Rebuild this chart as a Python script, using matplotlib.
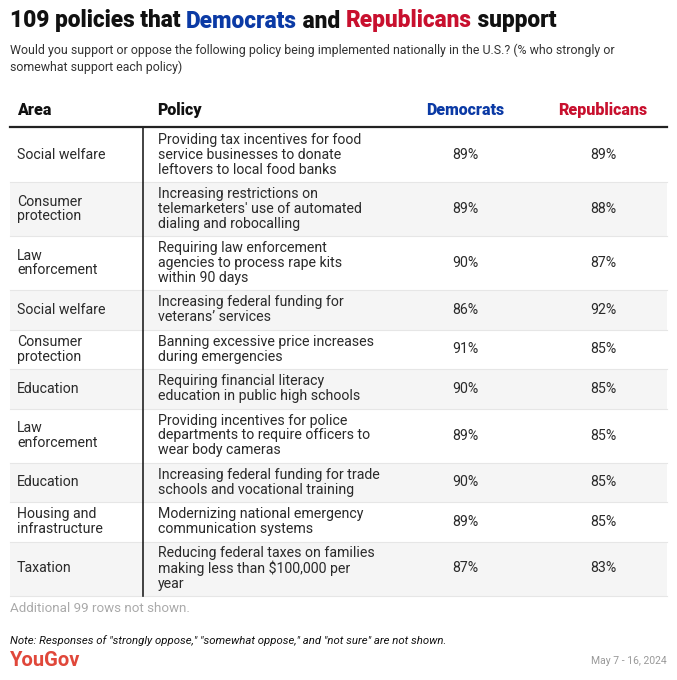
import matplotlib
matplotlib.use('Agg')
import matplotlib.pyplot as plt

plt.rcParams['font.family'] = ['Roboto', 'DejaVu Sans']

areas = ['Social welfare', 'Consumer\nprotection', 'Law\nenforcement', 'Social welfare',
         'Consumer\nprotection', 'Education', 'Law\nenforcement', 'Education',
         'Housing and\ninfrastructure', 'Taxation']
policies = ['Providing tax incentives for food\nservice businesses to donate\nleftovers to local food banks',
            "Increasing restrictions on\ntelemarketers' use of automated\ndialing and robocalling",
            'Requiring law enforcement\nagencies to process rape kits\nwithin 90 days',
            'Increasing federal funding for\nveterans\u2019 services',
            'Banning excessive price increases\nduring emergencies',
            'Requiring financial literacy\neducation in public high schools',
            'Providing incentives for police\ndepartments to require officers to\nwear body cameras',
            'Increasing federal funding for trade\nschools and vocational training',
            'Modernizing national emergency\ncommunication systems',
            'Reducing federal taxes on families\nmaking less than $100,000 per\nyear']
dem = [89, 89, 90, 86, 91, 90, 89, 90, 89, 87]
rep = [89, 88, 87, 92, 85, 85, 85, 85, 85, 83]

BLUE = '#0b3aa5'
RED = '#c8102e'

fig = plt.figure(figsize=(6.77, 6.80), dpi=100)
ax = fig.add_axes([0, 0, 1, 1])
ax.set_xlim(0, 677)
ax.set_ylim(680, 0)
ax.axis('off')

# title with coloured party names
title_parts = [('109 policies that ', '#111111'), ('Democrats', BLUE), (' and ', '#111111'),
               ('Republicans', RED), (' support', '#111111')]
x = 10
renderer = fig.canvas.get_renderer()
for txt, col in title_parts:
    t = ax.text(x, 21, txt, fontsize=16.3, fontweight='black', color=col, va='center', ha='left')
    bb = t.get_window_extent(renderer=renderer)
    x += bb.width

ax.text(10, 50, 'Would you support or oppose the following policy being implemented nationally in the U.S.? (% who strongly or',
        fontsize=8.9, color='#333333', va='center')
ax.text(10, 67, 'somewhat support each policy)', fontsize=8.9, color='#333333', va='center')

# header
hy = 110
hfs = 11.5
ax.text(17, hy, 'Area', fontsize=hfs, fontweight='black', color='#111111', va='center')
ax.text(157, hy, 'Policy', fontsize=hfs, fontweight='black', color='#111111', va='center')
ax.text(465, hy, 'Democrats', fontsize=hfs, fontweight='black', color=BLUE, va='center', ha='center')
ax.text(603, hy, 'Republicans', fontsize=hfs, fontweight='black', color=RED, va='center', ha='center')

# rows
top = 128
line_h = 14.5
fs = 10.2
for i, (a, p, d, r) in enumerate(zip(areas, policies, dem, rep)):
    n = p.count('\n') + 1
    h = n * line_h + 10.5
    if i % 2 == 1:
        ax.add_patch(plt.Rectangle((10, top), 657, h, color='#f5f5f5', lw=0, zorder=0))
    ax.plot([10, 667], [top + h, top + h], color='#e6e6e6', lw=0.8, zorder=1)
    cy = top + h / 2
    ax.text(17, cy, a, fontsize=fs, color='#2a2a2a', va='center', linespacing=1.05)
    ax.text(158, cy, p, fontsize=fs, color='#2a2a2a', va='center', linespacing=1.05)
    ax.text(465, cy, f'{d}%', fontsize=fs, color='#2a2a2a', va='center', ha='center')
    ax.text(603, cy, f'{r}%', fontsize=fs, color='#2a2a2a', va='center', ha='center')
    top += h
bottom = top

ax.plot([10, 667], [127, 127], color='#222222', lw=1.6, zorder=3)
ax.plot([143, 143], [127, bottom], color='#222222', lw=1.2, zorder=3)

ax.text(10, 609, 'Additional 99 rows not shown.', fontsize=9.6, color='#aaaaaa', va='center')
ax.text(10, 641, 'Note: Responses of "strongly oppose," "somewhat oppose," and "not sure" are not shown.',
        fontsize=8.2, style='italic', color='#111111', va='center')
ax.text(10, 661, 'YouGov', fontsize=14.5, fontweight='bold', color='#e0473a', va='center')
ax.text(667, 661, 'May 7 - 16, 2024', fontsize=7.5, color='#999999', va='center', ha='right')

fig.savefig('out.png', dpi=100, facecolor='white')
